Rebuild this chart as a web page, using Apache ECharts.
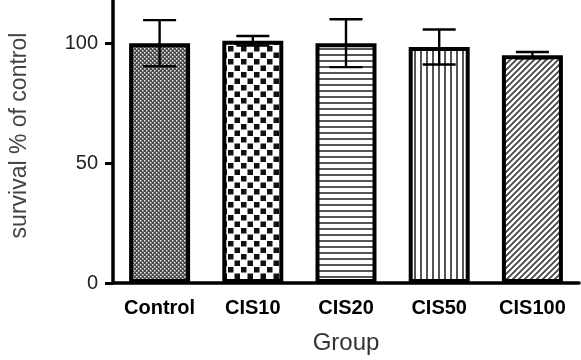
<!DOCTYPE html>
<html>
<head>
<meta charset="utf-8">
<style>
  html, body { margin: 0; padding: 0; background: #fff; }
  #chart { width: 581px; height: 360px; }
</style>
<script src="https://cdn.jsdelivr.net/npm/echarts@6/dist/echarts.min.js"></script>
</head>
<body>
<div id="chart"></div>
<script>
var categories = ['Control', 'CIS10', 'CIS20', 'CIS50', 'CIS100'];
var survival = [100, 101, 100, 98.4, 95];
var errors = [9.6, 2, 10, 7.3, 1.3];
var yTicks = [0, 50, 100];

// fill patterns, one per group
function makeTile(w, h, draw) {
  var c = document.createElement('canvas');
  c.width = w;
  c.height = h;
  var ctx = c.getContext('2d');
  ctx.fillStyle = '#fff';
  ctx.fillRect(0, 0, w, h);
  draw(ctx, w, h);
  return { image: c, repeat: 'repeat' };
}

var patterns = [
  // fine dotted grey
  makeTile(4, 4, function (ctx) {
    ctx.fillStyle = '#4a4a4a';
    ctx.fillRect(0, 0, 4, 4);
    ctx.fillStyle = '#e8e8e8';
    ctx.fillRect(0, 0, 1.5, 1.5);
    ctx.fillRect(2, 2, 1.5, 1.5);
  }),
  // checkerboard
  makeTile(13, 13, function (ctx) {
    ctx.fillStyle = '#111';
    ctx.fillRect(0.5, 0.5, 5.5, 5.5);
    ctx.fillRect(7, 7, 5.5, 5.5);
  }),
  // horizontal lines
  makeTile(6, 6.5, function (ctx) {
    ctx.fillStyle = '#555';
    ctx.fillRect(0, 0, 6, 2);
  }),
  // vertical lines
  makeTile(6.3, 6, function (ctx) {
    ctx.fillStyle = '#555';
    ctx.fillRect(0, 0, 2, 6);
  }),
  // diagonal lines
  makeTile(6, 6, function (ctx) {
    ctx.strokeStyle = '#444';
    ctx.lineWidth = 1.8;
    ctx.beginPath();
    ctx.moveTo(-1, 7); ctx.lineTo(7, -1);
    ctx.moveTo(-4, 4); ctx.lineTo(4, -4);
    ctx.moveTo(2, 10); ctx.lineTo(10, 2);
    ctx.stroke();
  })
];

var barData = survival.map(function (v, i) {
  return { value: v, itemStyle: { color: patterns[i] } };
});
var errData = survival.map(function (v, i) {
  return [i, v - errors[i], v + errors[i]];
});

var chart = echarts.init(document.getElementById('chart'));
chart.setOption({
  animation: false,
  grid: { left: 113, right: 2, top: 0, bottom: 71.5, containLabel: false },
  xAxis: {
    type: 'category',
    data: categories,
    name: 'Group',
    nameLocation: 'middle',
    nameGap: 48,
    nameTextStyle: { color: '#333', fontSize: 24, fontFamily: 'Liberation Sans' },
    axisLine: { lineStyle: { color: '#000', width: 3.5 } },
    axisTick: { alignWithLabel: true, length: 8, lineStyle: { color: '#000', width: 3 } },
    axisLabel: { color: '#000', fontSize: 20, fontWeight: 'bold', fontFamily: 'Liberation Sans', margin: 15 }
  },
  yAxis: {
    type: 'value',
    min: 0,
    max: 118,
    interval: 50,
    name: 'survival % of control',
    nameLocation: 'middle',
    nameGap: 82,
    nameTextStyle: { color: '#444', fontSize: 23, fontFamily: 'Liberation Sans', padding: [0, 0, 0, 12] },
    axisLine: { show: true, lineStyle: { color: '#000', width: 3.5 } },
    axisTick: { show: true, length: 8, customValues: yTicks, lineStyle: { color: '#000', width: 3 } },
    axisLabel: { color: '#222', fontSize: 20, fontFamily: 'Liberation Sans', margin: 15, customValues: yTicks },
    splitLine: { show: false }
  },
  series: [
    {
      type: 'bar',
      data: barData,
      barWidth: 61,
      itemStyle: { borderColor: '#000', borderWidth: 4 }
    },
    {
      type: 'custom',
      data: errData,
      clip: false,
      z: 5,
      renderItem: function (params, api) {
        var x = api.value(0);
        var lo = api.coord([x, api.value(1)]);
        var hi = api.coord([x, api.value(2)]);
        var half = 16.5;
        var style = { stroke: '#000', lineWidth: 2.4 };
        return {
          type: 'group',
          children: [
            { type: 'line', shape: { x1: hi[0], y1: hi[1], x2: lo[0], y2: lo[1] }, style: style },
            { type: 'line', shape: { x1: hi[0] - half, y1: hi[1], x2: hi[0] + half, y2: hi[1] }, style: style },
            { type: 'line', shape: { x1: lo[0] - half, y1: lo[1], x2: lo[0] + half, y2: lo[1] }, style: style }
          ]
        };
      }
    }
  ]
});
</script>
</body>
</html>
